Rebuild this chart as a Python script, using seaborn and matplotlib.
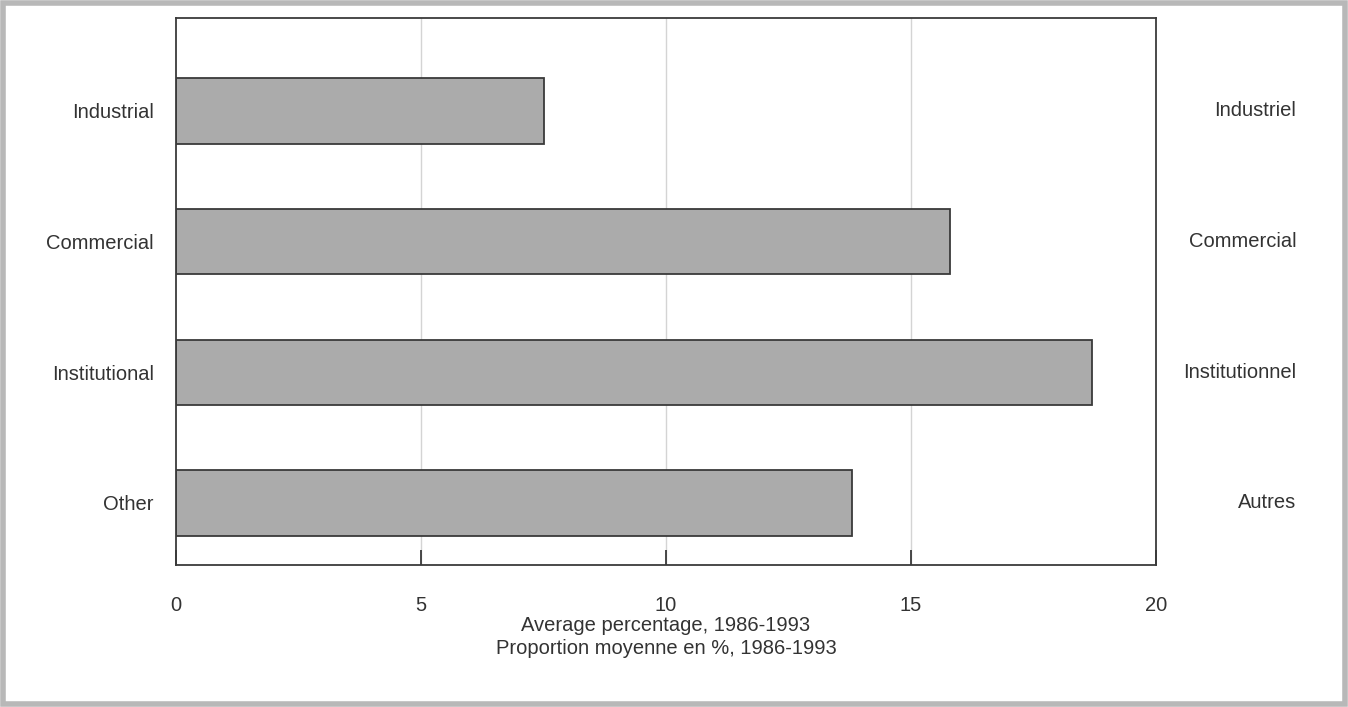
import pandas as pd
import numpy as np
import matplotlib.pyplot as plt
import seaborn as sns

# Datos
categorias_en = ['Industrial', 'Commercial', 'Institutional', 'Other']
categorias_fr = ['Industriel', 'Commercial', 'Institutionnel', 'Autres']
porcentajes = [7.5, 15.8, 18.7, 13.8]

df = pd.DataFrame({'Categoria': categorias_en, 'Porcentaje': porcentajes})

sns.set_style('white')
plt.rcParams['font.family'] = ['Liberation Sans', 'DejaVu Sans']
fs = 14.5

fig = plt.figure(figsize=(13.48, 7.07), dpi=100)
fig.patch.set_facecolor('white')
ax = fig.add_axes([0.1306, 0.2008, 0.7270, 0.7737])

# Líneas verticales de la cuadrícula
for xv in [5, 10, 15]:
    ax.axvline(xv, color='#d4d4d4', linewidth=1, zorder=0)

sns.barplot(data=df, x='Porcentaje', y='Categoria', orient='h', color='#ababab',
            saturation=1, width=0.5, edgecolor='#3a3a3a', linewidth=1.3, ax=ax, zorder=2)

ax.set_xlim(0, 20)
ax.set_ylim(3.475, -0.71)
ax.set_xticks([0, 5, 10, 15, 20])
ax.set_xticklabels(['0', '5', '10', '15', '20'], fontsize=fs, color='#333333')
ax.tick_params(axis='x', bottom=True, direction='in', length=11, width=1.3,
               color='#3a3a3a', pad=22)
ax.tick_params(axis='y', left=False, length=0, pad=16)
ax.set_yticks(range(len(categorias_en)))
ax.set_yticklabels(categorias_en, fontsize=fs, color='#333333')
ax.set_ylabel('')
ax.set_xlabel('Average percentage, 1986-1993\nProportion moyenne en %, 1986-1993',
              fontsize=fs, color='#333333', linespacing=1.25, labelpad=1)

for s in ax.spines.values():
    s.set_visible(True)
    s.set_color('#3a3a3a')
    s.set_linewidth(1.3)

# Etiquetas en francés a la derecha
for i, etiqueta in enumerate(categorias_fr):
    ax.text(1.143, i, etiqueta, transform=ax.get_yaxis_transform(), ha='right', va='center',
            fontsize=fs, color='#333333')

# Marco gris del documento escaneado
fig.patches.append(plt.Rectangle((0.002, 0.004), 0.996, 0.992, transform=fig.transFigure,
                                 fill=False, edgecolor='#b8b8b8', linewidth=4))

fig.savefig('out.png', dpi=100)
plt.close()
